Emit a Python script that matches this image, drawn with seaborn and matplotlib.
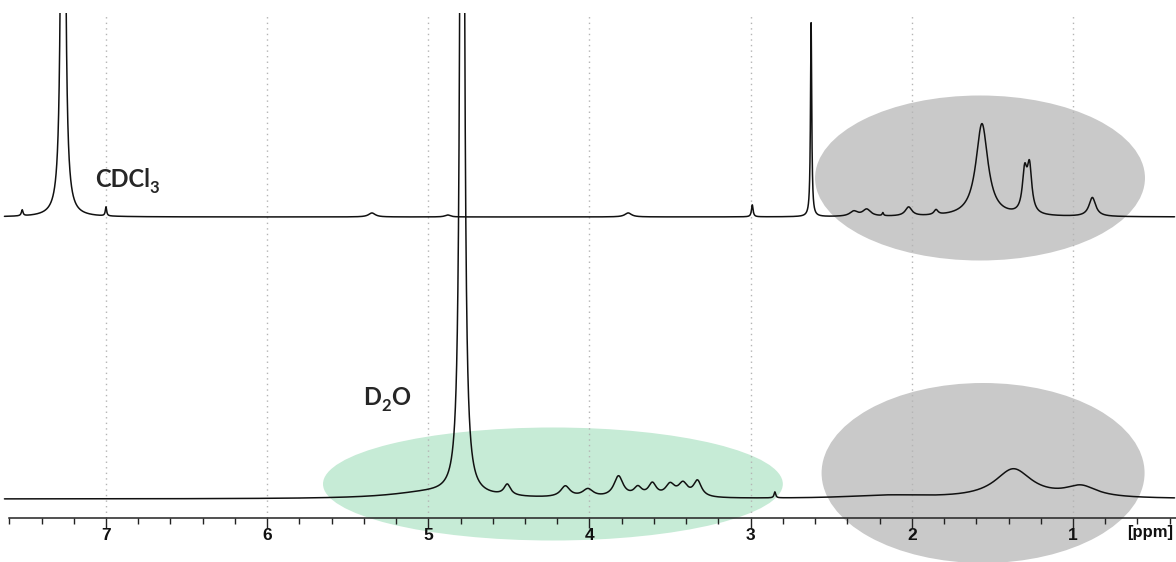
"""1H NMR spectra in CDCl3 (top) and D2O (bottom)"""

import numpy as np
import pandas as pd
import seaborn as sns
from matplotlib import pyplot as plt
from matplotlib.patches import Ellipse

# peak lists: shift [ppm], height [a.u.], half width [ppm]
cdcl3_shift = [7.52, 7.266, 7.00, 5.35, 4.88, 3.76, 2.99, 2.625, 2.36, 2.28, 2.18, 2.02, 1.85, 1.565, 1.30, 1.27, 0.88]
cdcl3_height = [6, 2000, 9, 4, 2, 4, 12, 194, 5, 7, 3, 9, 5, 93, 40, 45, 19]
cdcl3_width = [0.006, 0.0065, 0.005, 0.025, 0.02, 0.025, 0.006, 0.0045, 0.03, 0.03, 0.005, 0.025, 0.015, 0.045, 0.017, 0.017, 0.025]

d2o_shift = [4.79, 5.00, 4.51, 4.15, 4.01, 3.82, 3.70, 3.61, 3.50, 3.42, 3.33, 2.85, 2.15, 1.37, 0.95]
d2o_height = [2000, 6, 11, 11, 8, 21, 9, 13, 12, 13, 16, 6, 3, 29, 11]
d2o_width = [0.009, 0.30, 0.025, 0.035, 0.04, 0.035, 0.03, 0.03, 0.035, 0.035, 0.03, 0.006, 0.3, 0.14, 0.12]

major_ticks = [1, 2, 3, 4, 5, 6, 7]


def spectrum(ppm, shifts, heights, widths, offset):
    y = np.zeros_like(ppm)
    for c, h, w in zip(shifts, heights, widths):
        y += h / (1 + ((ppm - c) / w) ** 2)
    return y + offset


sns.set_theme(style="white")
plt.rcParams['font.family'] = ['Liberation Sans', 'DejaVu Sans']

fig = plt.figure(figsize=(11.76, 5.62), dpi=100)
ax = fig.add_axes([0, 0, 1, 549 / 562])

ppm = np.linspace(7.63, 0.37, 24000)
df = pd.concat([
    pd.DataFrame({"ppm": ppm, "y": spectrum(ppm, cdcl3_shift, cdcl3_height, cdcl3_width, 345), "solv": "CDCl3"}),
    pd.DataFrame({"ppm": ppm, "y": spectrum(ppm, d2o_shift, d2o_height, d2o_width, 63), "solv": "D2O"}),
])

# highlighted regions
ax.add_patch(Ellipse((1.577, 384), 2.047, 165, color="#c9c9c9", lw=0, zorder=0))
ax.add_patch(Ellipse((1.558, 89), 2.004, 180, color="#c9c9c9", lw=0, zorder=0))
ax.add_patch(Ellipse((4.227, 78), 2.853, 113, color="#c6ebd6", lw=0, zorder=0))

ax.vlines(major_ticks, 44, 547, colors="#b4b4b4", linestyles=(0, (1, 3)), lw=1, zorder=1)

sns.lineplot(data=df, x="ppm", y="y", units="solv", estimator=None, sort=False,
             color="#111111", lw=1.1, ax=ax, zorder=3)

ax.set_xlim(7.6576, 0.361)
ax.set_ylim(0, 549)
ax.set_xlabel("")
ax.set_ylabel("")
ax.set_yticks([])
for s in ["left", "right", "top"]:
    ax.spines[s].set_visible(False)
ax.spines["bottom"].set_position(("data", 44))
ax.spines["bottom"].set_bounds(0.36, 7.6)
ax.spines["bottom"].set_color("#222222")
ax.spines["bottom"].set_linewidth(1.1)
ax.set_xticks(major_ticks)
ax.set_xticks(np.arange(0.4, 7.61, 0.2), minor=True)
ax.tick_params(axis="x", which="major", direction="out", length=7, width=1, color="#222222",
               pad=0.5, labelsize=12.5, labelcolor="#111111", bottom=True)
ax.tick_params(axis="x", which="minor", direction="out", length=4.5, width=1, color="#222222", bottom=True)
for lab in ax.get_xticklabels():
    lab.set_fontweight("bold")
ax.text(0.52, 29, "[ppm]", fontsize=12, fontweight="bold", ha="center", va="center", color="#111111")

# solvent labels, subscript set by hand
ax.text(7.068, 375, "CDCl", fontsize=17, family="Lato", fontweight="bold", ha="left", va="baseline")
ax.text(6.728, 369, "3", fontsize=12, family="Lato", fontweight="bold", ha="left", va="baseline")
ax.text(5.405, 157, "D", fontsize=17, family="Lato", fontweight="bold", ha="left", va="baseline")
ax.text(5.292, 151, "2", fontsize=12, family="Lato", fontweight="bold", ha="left", va="baseline")
ax.text(5.232, 157, "O", fontsize=17, family="Lato", fontweight="bold", ha="left", va="baseline")

plt.savefig("out.png", dpi=100)
